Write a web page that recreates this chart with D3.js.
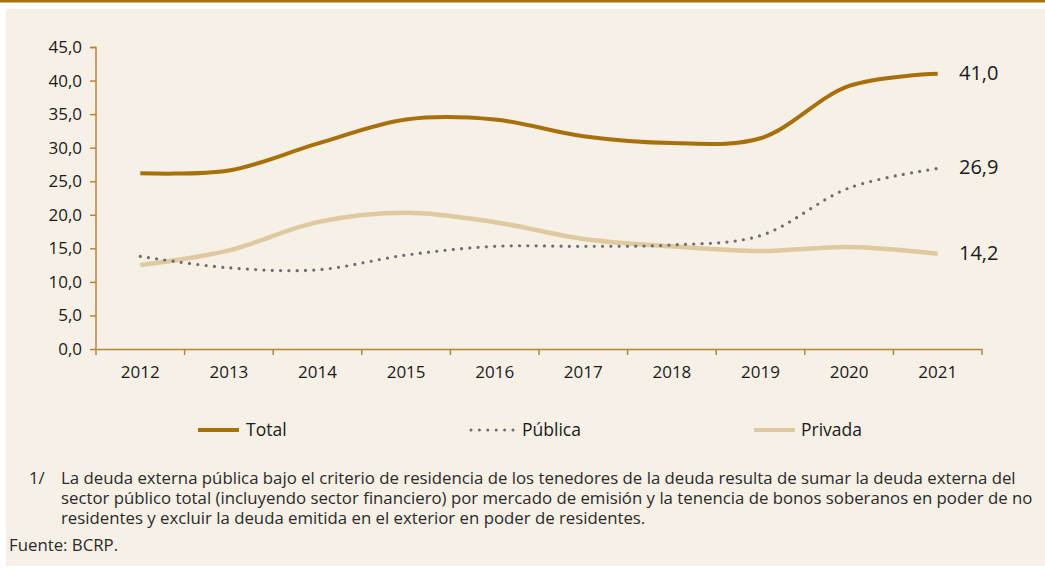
<!DOCTYPE html>
<html>
<head>
<meta charset="utf-8">
<script src="https://cdn.jsdelivr.net/npm/d3@7"></script>
<style>
  html, body { margin: 0; padding: 0; background: #ffffff; }
  svg { display: block; }
  .tick text { font-family: "Open Sans", sans-serif; font-size: 17px; fill: #1a1a1a; }
  .note { font-family: "Open Sans", sans-serif; font-size: 16.8px; fill: #2a2a2a; }
</style>
</head>
<body>
<script>
const years = [2012, 2013, 2014, 2015, 2016, 2017, 2018, 2019, 2020, 2021];
const total = [26.2, 26.6, 30.6, 34.2, 34.2, 31.7, 30.7, 31.4, 39.2, 41.0];
const publica = [13.8, 12.1, 11.8, 14.0, 15.3, 15.3, 15.5, 16.9, 24.0, 26.9];
const privada = [12.5, 14.7, 18.9, 20.3, 18.9, 16.4, 15.3, 14.6, 15.2, 14.2];
const yTicks = [0, 5, 10, 15, 20, 25, 30, 35, 40, 45];
const seriesNames = ["Total", "Pública", "Privada"];
const noteLines = [
  "La deuda externa pública bajo el criterio de residencia de los tenedores de la deuda resulta de sumar la deuda externa del",
  "sector público total (incluyendo sector financiero) por mercado de emisión y la tenencia de bonos soberanos en poder de no",
  "residentes y excluir la deuda emitida en el exterior en poder de residentes."
];

const W = 1045, H = 569;
const gold = "#a8700a", grey = "#6b6b72", tan = "#dfc9a0", bg = "#f6f0e6", axisCol = "#b8843a";

const svg = d3.select("body").append("svg").attr("width", W).attr("height", H);
svg.append("rect").attr("x", 0).attr("y", 0).attr("width", W).attr("height", 2.5).attr("fill", gold);
svg.append("rect").attr("x", 6).attr("y", 9).attr("width", W - 6).attr("height", 557).attr("fill", bg);

const x = d3.scaleBand().domain(years).range([96, 982]);
const y = d3.scaleLinear().domain([0, 45]).range([349, 47]);
const fmt = v => d3.format(".1f")(v).replace(".", ",");

// y axis
const yAxis = svg.append("g").attr("transform", "translate(96,0)")
  .call(d3.axisLeft(y).tickValues(yTicks).tickSize(6).tickPadding(8).tickFormat(fmt));
// x axis
const xAxis = svg.append("g").attr("transform", "translate(0,349)")
  .call(d3.axisBottom(x).tickSize(0).tickPadding(17));
xAxis.selectAll(".tick line").remove();
const bounds = d3.range(years.length + 1).map(i => 96 + i * x.step());
xAxis.selectAll(".bnd").data(bounds).enter().append("line")
  .attr("x1", d => d).attr("x2", d => d).attr("y1", 0).attr("y2", 6)
  .attr("stroke", axisCol).attr("stroke-width", 1.5);
[yAxis, xAxis].forEach(a => {
  a.select(".domain").attr("stroke", axisCol).attr("stroke-width", 1.5);
  a.selectAll(".tick line").attr("stroke", axisCol).attr("stroke-width", 1.5);
});
yAxis.select(".domain").attr("d", "M-6,47.5H0V349");

const line = d3.line()
  .x((d, i) => x(years[i]) + x.bandwidth() / 2)
  .y(d => y(d))
  .curve(d3.curveCatmullRom.alpha(0.5));

const series = [
  { name: "Total", values: total, color: gold, width: 4, dash: null },
  { name: "Pública", values: publica, color: grey, width: 3.2, dash: "0 8.3" },
  { name: "Privada", values: privada, color: tan, width: 4.5, dash: null }
];

svg.selectAll(".series").data(series.slice().reverse()).enter().append("path")
  .attr("class", "series")
  .attr("d", d => line(d.values))
  .attr("fill", "none")
  .attr("stroke", d => d.color)
  .attr("stroke-width", d => d.width)
  .attr("stroke-linecap", d => d.dash ? "round" : "butt")
  .attr("stroke-dasharray", d => d.dash);

// end labels
svg.selectAll(".endlab").data(series).enter().append("text")
  .attr("x", 959)
  .attr("y", d => y(d.values[d.values.length - 1]) + 6)
  .attr("font-family", "Open Sans, sans-serif")
  .attr("font-size", 20)
  .attr("fill", "#1a1a1a")
  .text(d => fmt(d.values[d.values.length - 1]));

// legend
const legX = [198, 471, 754];
const leg = svg.selectAll(".leg").data(series).enter().append("g")
  .attr("transform", (d, i) => "translate(" + legX[i] + ",430)");
leg.append("line")
  .attr("x1", 0).attr("x2", (d, i) => i === 1 ? 42 : 41)
  .attr("stroke", d => d.color)
  .attr("stroke-width", d => d.dash ? 3 : 4)
  .attr("stroke-linecap", d => d.dash ? "round" : "butt")
  .attr("stroke-dasharray", d => d.dash ? "0 8.4" : null);
leg.append("text")
  .attr("x", (d, i) => i === 1 ? 51 : (i === 0 ? 48 : 47)).attr("y", 6)
  .attr("font-family", "Open Sans, sans-serif")
  .attr("font-size", 17.5)
  .attr("fill", "#1a1a1a")
  .text(d => d.name);

// footnote
svg.append("text").attr("class", "note").attr("x", 29).attr("y", 484).text("1/");
svg.selectAll(".nl").data(noteLines).enter().append("text")
  .attr("class", "note")
  .attr("x", 61)
  .attr("y", (d, i) => 484 + i * 20)
  .text(d => d);
svg.append("text").attr("class", "note").attr("x", 9).attr("y", 551).text("Fuente: BCRP.");
</script>
</body>
</html>
